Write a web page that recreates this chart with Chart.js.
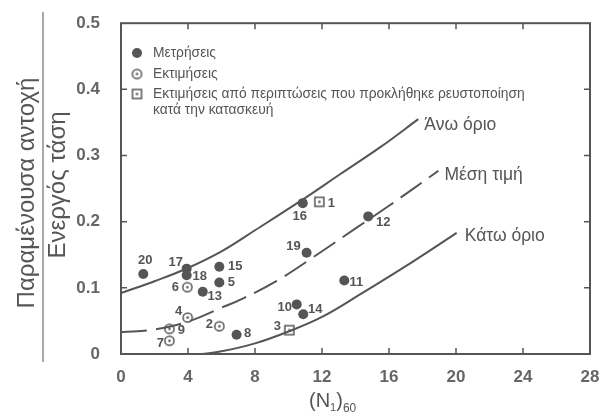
<!DOCTYPE html>
<html>
<head>
<meta charset="utf-8">
<script src="https://cdn.jsdelivr.net/npm/chart.js@4.4.0/dist/chart.umd.min.js"></script>
<style>
    html, body { margin: 0; padding: 0; background: #fff; }
    #wrap { width: 610px; height: 414px; position: relative; }
</style>
</head>
<body>
<div id="wrap"><canvas id="chart" width="610" height="414"></canvas></div>
<script>
// Axis ticks
const xTickValues = [0, 4, 8, 12, 16, 20, 24, 28];
const yTickValues = [0, 0.1, 0.2, 0.3, 0.4, 0.5];
const yTickLabels = ['0', '0.1', '0.2', '0.3', '0.4', '0.5'];

// Μετρήσεις (filled dots)
const measuredIds = ['20', '17', '18', '15', '5', '13', '8', '16', '12', '19', '11', '10', '14'];
const measuredX = [1.33, 3.92, 3.92, 5.87, 5.87, 4.88, 6.9, 10.85, 14.76, 11.08, 13.33, 10.49, 10.88];
const measuredY = [0.121, 0.129, 0.119, 0.132, 0.108, 0.094, 0.029, 0.228, 0.208, 0.153, 0.111, 0.075, 0.060];

// Εκτιμήσεις (open circles)
const estimatedIds = ['6', '4', '9', '7', '2'];
const estimatedX = [3.96, 3.98, 2.89, 2.89, 5.87];
const estimatedY = [0.101, 0.055, 0.038, 0.020, 0.042];

// Εκτιμήσεις από περιπτώσεις ρευστοποίησης (squares)
const liquefiedIds = ['1', '3'];
const liquefiedX = [11.84, 10.05];
const liquefiedY = [0.230, 0.036];

// Curves
const curveNames = ['Άνω όριο', 'Μέση τιμή', 'Κάτω όριο'];
const upperX = [0, 2, 4, 6, 8, 10.7, 13.1, 15.5, 17.75];
const upperY = [0.092, 0.110, 0.130, 0.155, 0.187, 0.231, 0.272, 0.313, 0.355];
const meanX = [0, 2, 4, 6, 7.2, 9.3, 11.48, 14.07, 16, 18.95];
const meanY = [0.033, 0.037, 0.049, 0.070, 0.083, 0.1105, 0.1464, 0.191, 0.224, 0.277];
const lowerX = [4.8, 6, 8, 10, 12, 14.27, 17.45, 20.04];
const lowerY = [0, 0.004, 0.016, 0.034, 0.056, 0.090, 0.140, 0.183];

const INK = '#555555';
const FONT = '"Liberation Sans", Arial, sans-serif';

function toPoints(xs, ys) {
    return xs.map((x, i) => ({ x: x, y: ys[i] }));
}

// Marker images
function makeMarker(kind) {
    const c = document.createElement('canvas');
    c.width = 13; c.height = 13;
    const g = c.getContext('2d');
    g.strokeStyle = INK;
    g.fillStyle = INK;
    g.lineWidth = 1.5;
    if (kind === 'circle') {
        g.beginPath();
        g.arc(6.5, 6.5, 4.6, 0, Math.PI * 2);
        g.stroke();
    } else {
        g.strokeRect(2, 2, 9, 9);
    }
    g.beginPath();
    g.arc(6.5, 6.5, 1.3, 0, Math.PI * 2);
    g.fill();
    return c;
}
const circleMarker = makeMarker('circle');
const squareMarker = makeMarker('square');

// Label offsets for point numbers (pixels)
const labelShift = {
    '20': [2, -14], '17': [-11, -6], '18': [13, 1], '15': [16, 0], '5': [12, 0],
    '13': [12, 5], '8': [11, -1], '16': [-3, 13], '12': [15, 6], '19': [-13, -6],
    '11': [12, 2], '10': [-12, 3], '14': [12, -5], '6': [-12, 0], '4': [-9, -6],
    '9': [12, 2], '7': [-9, 3], '2': [-10, -2], '1': [12, 2], '3': [-12, -4]
};
const curveLabelShift = [[6, 6], [6, 4], [8, 3]];

const decorPlugin = {
    id: 'decor',
    afterDraw(chart) {
        const ctx = chart.ctx;
        const xs = chart.scales.x;
        const ys = chart.scales.y;
        const area = chart.chartArea;
        ctx.save();

        // frame and inward ticks
        ctx.strokeStyle = INK;
        ctx.lineWidth = 2;
        ctx.strokeRect(area.left, area.top, area.right - area.left, area.bottom - area.top);
        ctx.lineWidth = 1.5;
        ctx.beginPath();
        xTickValues.slice(1, -1).forEach(v => {
            const px = xs.getPixelForValue(v);
            ctx.moveTo(px, area.bottom); ctx.lineTo(px, area.bottom - 6);
            ctx.moveTo(px, area.top); ctx.lineTo(px, area.top + 6);
        });
        yTickValues.slice(1, -1).forEach(v => {
            const py = ys.getPixelForValue(v);
            ctx.moveTo(area.left, py); ctx.lineTo(area.left + 6, py);
            ctx.moveTo(area.right, py); ctx.lineTo(area.right - 6, py);
        });
        ctx.stroke();

        // point numbers
        ctx.fillStyle = INK;
        ctx.font = 'bold 13px ' + FONT;
        ctx.textAlign = 'center';
        ctx.textBaseline = 'middle';
        chart.data.datasets.forEach(ds => {
            if (!ds.ids) return;
            ds.data.forEach((p, i) => {
                const s = labelShift[ds.ids[i]] || [10, 0];
                ctx.fillText(ds.ids[i], xs.getPixelForValue(p.x) + s[0], ys.getPixelForValue(p.y) + s[1]);
            });
        });

        // curve names at the curve ends
        ctx.font = '17.5px ' + FONT;
        ctx.textAlign = 'left';
        chart.data.datasets.filter(ds => ds.curveIndex !== undefined).forEach(ds => {
            const last = ds.data[ds.data.length - 1];
            const s = curveLabelShift[ds.curveIndex];
            ctx.fillText(curveNames[ds.curveIndex], xs.getPixelForValue(last.x) + s[0], ys.getPixelForValue(last.y) + s[1]);
        });

        // legend
        ctx.font = '13.8px ' + FONT;
        const lx = area.left + 16;
        ctx.beginPath();
        ctx.arc(lx, 53, 5, 0, Math.PI * 2);
        ctx.fill();
        ctx.drawImage(circleMarker, lx - 6.5, 74 - 6.5);
        ctx.drawImage(squareMarker, lx - 6.5, 94 - 6.5);
        ctx.fillText('Μετρήσεις', lx + 16, 53);
        ctx.fillText('Εκτιμήσεις', lx + 16, 74);
        ctx.fillText('Εκτιμήσεις από περιπτώσεις που προκλήθηκε ρευστοποίηση', lx + 16, 94);
        ctx.fillText('κατά την κατασκευή', lx + 16, 110);

        // x axis title (N1)60
        ctx.textBaseline = 'alphabetic';
        let tx = 309;
        ctx.font = '20px ' + FONT;
        ctx.fillText('(N', tx, 407);
        tx += ctx.measureText('(N').width;
        ctx.font = '11px ' + FONT;
        ctx.fillText('1', tx, 411);
        tx += ctx.measureText('1').width;
        ctx.font = '20px ' + FONT;
        ctx.fillText(')', tx, 407);
        tx += ctx.measureText(')').width;
        ctx.font = '12px ' + FONT;
        ctx.fillText('60', tx, 412);

        // y axis title as a ratio
        ctx.font = '24px ' + FONT;
        ctx.textAlign = 'center';
        ctx.save();
        ctx.translate(34, 193);
        ctx.rotate(-Math.PI / 2);
        ctx.fillText('Παραμένουσα αντοχή', 0, 0);
        ctx.restore();
        ctx.save();
        ctx.translate(65, 185);
        ctx.rotate(-Math.PI / 2);
        ctx.fillText('Ενεργός τάση', 0, 0);
        ctx.restore();
        ctx.lineWidth = 1;
        ctx.beginPath();
        ctx.moveTo(43, 12);
        ctx.lineTo(43, 362);
        ctx.stroke();

        ctx.restore();
    }
};

const ctx = document.getElementById('chart').getContext('2d');

new Chart(ctx, {
    type: 'scatter',
    data: {
        datasets: [
            {
                label: curveNames[0], curveIndex: 0, type: 'line',
                data: toPoints(upperX, upperY),
                borderColor: INK, borderWidth: 2, pointRadius: 0,
                tension: 0.4, fill: false
            },
            {
                label: curveNames[1], curveIndex: 1, type: 'line',
                data: toPoints(meanX, meanY),
                borderColor: INK, borderWidth: 2, pointRadius: 0, borderDash: [26, 9],
                tension: 0.4, fill: false
            },
            {
                label: curveNames[2], curveIndex: 2, type: 'line',
                data: toPoints(lowerX, lowerY),
                borderColor: INK, borderWidth: 2, pointRadius: 0,
                tension: 0.4, fill: false
            },
            {
                label: 'Μετρήσεις', ids: measuredIds,
                data: toPoints(measuredX, measuredY),
                pointRadius: 5, pointBackgroundColor: INK, pointBorderWidth: 0
            },
            {
                label: 'Εκτιμήσεις', ids: estimatedIds,
                data: toPoints(estimatedX, estimatedY),
                pointStyle: circleMarker
            },
            {
                label: 'Εκτιμήσεις από περιπτώσεις ρευστοποίησης', ids: liquefiedIds,
                data: toPoints(liquefiedX, liquefiedY),
                pointStyle: squareMarker
            }
        ]
    },
    options: {
        responsive: false,
        animation: false,
        layout: { padding: { top: 16, right: 20, left: 0, bottom: 0 } },
        plugins: {
            legend: { display: false },
            tooltip: { enabled: false }
        },
        scales: {
            x: {
                type: 'linear', min: 0, max: 28,
                afterFit: scale => { scale.height = 60; },
                afterBuildTicks: scale => { scale.ticks = xTickValues.map(v => ({ value: v })); },
                ticks: {
                    color: '#666', padding: 5,
                    font: { size: 17, weight: 'bold', family: FONT },
                    maxRotation: 0
                },
                grid: { display: false },
                border: { display: false }
            },
            y: {
                type: 'linear', min: 0, max: 0.5,
                afterFit: scale => { scale.width = 121; },
                afterBuildTicks: scale => { scale.ticks = yTickValues.map(v => ({ value: v })); },
                ticks: {
                    color: '#666', padding: 13,
                    font: { size: 17, weight: 'bold', family: FONT },
                    callback: (v, i) => yTickLabels[i]
                },
                grid: { display: false },
                border: { display: false }
            }
        }
    },
    plugins: [decorPlugin]
});
</script>
</body>
</html>
